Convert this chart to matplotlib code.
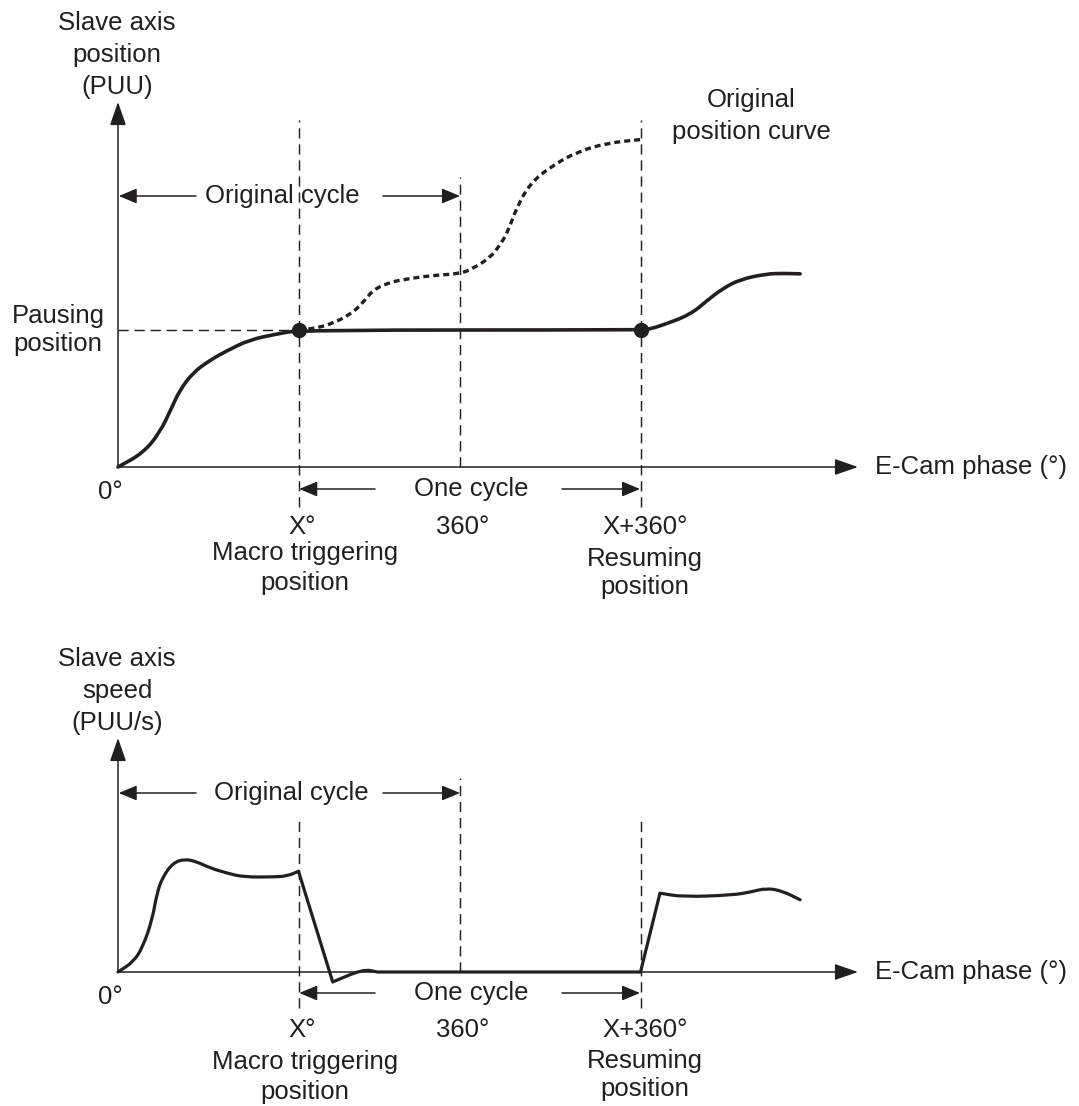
import matplotlib
matplotlib.use('Agg')
import matplotlib.pyplot as plt
from matplotlib.path import Path
from matplotlib.patches import PathPatch

plt.rcParams['font.family'] = ['Liberation Sans', 'DejaVu Sans']
INK = '#231f20'
FS = 18.5

# ------------------------------------------------------------------ data
phase_marks = [0, 190, 360, 550]            # 0°, X°, 360°, X+360°
phase_labels = ['0°', 'X°', '360°', 'X+360°']
pausing_position = 100

# actual slave position curve (PUU) vs E-Cam phase (deg)
pos_phase = [0, 26, 44, 57, 65, 79, 97, 115, 139, 167, 190,
             550, 560, 571, 602, 621, 636, 655, 683, 700, 718]
pos_value = [0, 10, 25, 44, 56, 69, 78, 85, 93, 97, 100,
             100, 100.8, 103, 111, 122, 130, 137, 141, 141.3, 141]

# original (un-paused) position curve
orig_phase = [190, 210, 226, 244, 258, 268, 283, 297, 332, 360, 374,
              392, 402, 410, 420, 434, 455, 483, 515, 550]
orig_value = [100, 101.5, 105, 111, 120, 129, 134, 136.5, 140, 141, 145,
              153, 162, 171, 190, 207, 219, 230, 236.5, 239]

# slave speed curve (PUU/s)
spd_phase = [0, 16, 26, 36, 41, 47, 58, 70.5, 83, 97, 115, 132, 163, 178, 190,
             226, 258, 273, 550, 570.5, 595, 647, 665, 683, 700, 718]
spd_value = [0, 10.5, 26, 55, 83, 100, 115, 119, 116, 109.5, 104, 100, 100, 101, 106,
             -10.5, 3, 0, 0, 83, 79, 81, 84, 88.4, 85, 76]
spd_corners = [190, 226, 273, 550, 570.5]

# ------------------------------------------------------------------ layout
W, H, DPI = 1079, 1106, 100
fig = plt.figure(figsize=(W / DPI, H / DPI), dpi=DPI)
X0_PX, DEG_PX = 118, 0.95


def make_axes(row_top, row_bot, origin_row, px_per_unit):
    ax = fig.add_axes([0, 1 - row_bot / H, 1, (row_bot - row_top) / H])
    ax.set_xlim(-X0_PX / DEG_PX, (W - X0_PX) / DEG_PX)
    ax.set_ylim(-(row_bot - origin_row) / px_per_unit, (origin_row - row_top) / px_per_unit)
    ax.axis('off')
    return ax


ax1 = make_axes(0, 600, 467, 1.37)
ax2 = make_axes(600, H, 972, 0.95)


def at(ax, x, y):
    """figure pixel position (from top-left) -> data coords of ax"""
    return tuple(ax.transData.inverted().transform((x, H - y)))


def smooth_line(ax, xs, ys, corners=(), **kw):
    pts = []
    for x, y in zip(xs, ys):
        pts.append((x, y))
        if x in corners:
            pts.append((x, y))
    mid = lambda a, b: ((a[0] + b[0]) / 2, (a[1] + b[1]) / 2)
    verts = [pts[0], mid(pts[0], pts[1])]
    codes = [Path.MOVETO, Path.LINETO]
    for i in range(1, len(pts) - 1):
        verts += [pts[i], mid(pts[i], pts[i + 1])]
        codes += [Path.CURVE3, Path.CURVE3]
    verts.append(pts[-1])
    codes.append(Path.LINETO)
    ax.add_patch(PathPatch(Path(verts, codes), fill=False, color=INK,
                           joinstyle='round', clip_on=False, **kw))


def arrow(ax, p0, p1, big=False):
    style = ('-|>,head_length=0.72,head_width=0.25' if big
             else '-|>,head_length=0.55,head_width=0.23')
    ax.annotate('', xy=p1, xytext=p0,
                arrowprops=dict(arrowstyle=style, mutation_scale=20, lw=1.1,
                                color=INK, shrinkA=0, shrinkB=0))


def label(ax, x, y, s, ha='center', ls=1.38):
    ax.text(*at(ax, x, y), s, ha=ha, va='center', fontsize=FS, color=INK,
            linespacing=ls)


DASH = dict(color=INK, lw=1.05, linestyle=(0, (7, 4)))


def panel(ax, origin_row, ylab, ylab_row, cyc_row, vtop_row, v360_row, vbot_row,
          one_row, xlab_row, macro_row, resume_row):
    # axes with arrowheads
    arrow(ax, (0, 0), (at(ax, 858, 0)[0], 0), big=True)
    arrow(ax, (0, 0), (0, at(ax, 0, ylab_row + 47)[1]), big=True)
    # vertical reference lines
    ax.vlines(phase_marks[1], at(ax, 0, vbot_row)[1], at(ax, 0, vtop_row)[1], **DASH)
    ax.vlines(phase_marks[3], at(ax, 0, vbot_row)[1], at(ax, 0, vtop_row)[1], **DASH)
    ax.vlines(phase_marks[2], 0, at(ax, 0, v360_row)[1], **DASH)
    # y label
    label(ax, 117, ylab_row, ylab, ls=1.4)
    # original cycle
    yc = at(ax, 0, cyc_row)[1]
    arrow(ax, (at(ax, 196, 0)[0], yc), (0.8, yc))
    arrow(ax, (at(ax, 383, 0)[0], yc), (phase_marks[2], yc))
    # one cycle
    yo = at(ax, 0, one_row)[1]
    arrow(ax, (at(ax, 375, 0)[0], yo), (phase_marks[1] + 0.8, yo))
    arrow(ax, (at(ax, 562, 0)[0], yo), (phase_marks[3] - 0.5, yo))
    label(ax, 471, one_row, 'One cycle')
    # tick-like labels
    label(ax, 110, origin_row + 25, phase_labels[0])
    label(ax, 302, xlab_row, phase_labels[1])
    label(ax, 463, xlab_row, phase_labels[2])
    label(ax, 645, xlab_row, phase_labels[3])
    label(ax, 305, macro_row, 'Macro triggering\nposition', ls=1.3)
    label(ax, 645, resume_row, 'Resuming\nposition', ls=1.2)
    label(ax, 875, origin_row, 'E-Cam phase (°)', ha='left')
    return yc


# ---------------- top panel: position
yc1 = panel(ax1, 467, 'Slave axis\nposition\n(PUU)', 55, 196, 120, 177, 507,
            489, 527, 568, 573)
label(ax1, 282, 196, 'Original cycle')
label(ax1, 58, 330, 'Pausing\nposition', ls=1.2)
label(ax1, 751, 116, 'Original\nposition curve', ls=1.4)
ax1.hlines(pausing_position, 0, phase_marks[1], **DASH)
smooth_line(ax1, orig_phase, orig_value, lw=2.4, linestyle=(0, (1.8, 1.2)),
            capstyle='butt')
smooth_line(ax1, pos_phase, pos_value, lw=2.6, capstyle='round')
ax1.plot([phase_marks[1], phase_marks[3]], [pausing_position] * 2, 'o',
         ms=10, color=INK)

# ---------------- bottom panel: speed
yc2 = panel(ax2, 972, 'Slave axis\nspeed\n(PUU/s)', 691, 793, 820, 778, 1008,
            993, 1030, 1077, 1075)
label(ax2, 291, 793, 'Original cycle')
smooth_line(ax2, spd_phase, spd_value, corners=spd_corners, lw=2.3,
            capstyle='round')

fig.savefig('out.png', dpi=DPI, facecolor='white')
